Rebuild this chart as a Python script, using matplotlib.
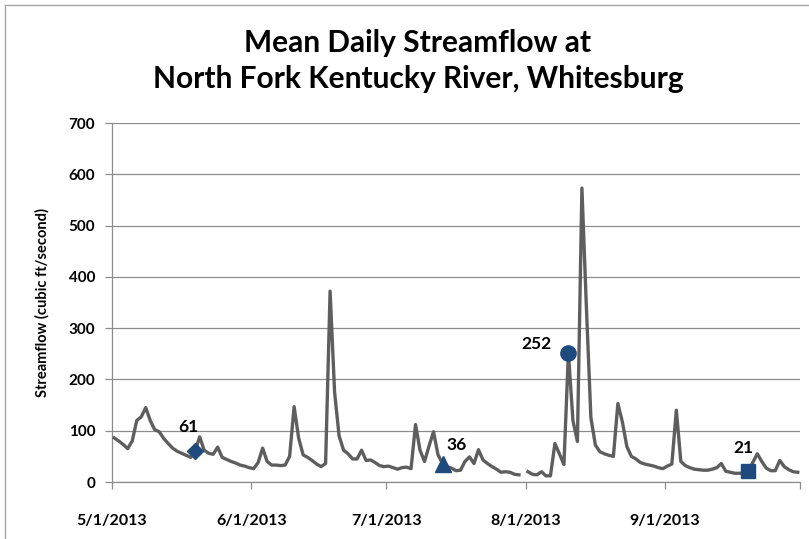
import numpy as np
import pandas as pd
import matplotlib
matplotlib.use("Agg")
import matplotlib.pyplot as plt
from matplotlib.lines import Line2D

# Mean daily streamflow (cubic ft/second), one list per month of 2013
may_flow = [86, 80, 73, 65, 80, 120, 127, 145, 120, 102,
            98, 85, 75, 66, 60, 56, 52, 48, 61, 88,
            62, 56, 54, 68, 48, 44, 40, 37, 33, 31,
            28]
jun_flow = [26, 38, 66, 40, 33, 33, 32, 33, 50, 147,
            86, 53, 48, 42, 35, 30, 36, 372, 175, 90,
            62, 55, 45, 45, 62, 42, 43, 38, 32, 30]
jul_flow = [31, 28, 25, 28, 29, 26, 112, 62, 40, 70,
            98, 53, 36, 30, 27, 22, 23, 40, 49, 36,
            63, 43, 36, 30, 25, 19, 20, 19, 15, 14,
            np.nan]
aug_flow = [20, 15, 14, 20, 12, 12, 75, 55, 34, 252,
            120, 79, 573, 340, 125, 72, 59, 55, 52, 50,
            153, 117, 69, 50, 45, 38, 35, 33, 31, 28,
            26]
sep_flow = [31, 35, 140, 40, 32, 28, 25, 24, 23, 23,
            25, 28, 36, 21, 19, 17, 17, 18, 21, 38,
            55, 40, 27, 22, 22, 42, 30, 24, 20, 19]

start_date = "2013-05-01"

# Highlighted sample days
sample_dates = ["2013-05-19", "2013-07-13", "2013-08-10", "2013-09-19"]
sample_values = [61, 36, 252, 21]
sample_markers = ["D", "^", "o", "s"]
sample_sizes = [8.5, 12, 11, 10.5]
label_offsets = [(-7, 24), (14, 19), (-32, 9), (-5, 23)]

tick_dates = ["2013-05-01", "2013-06-01", "2013-07-01", "2013-08-01",
              "2013-09-01", "2013-10-01"]
tick_labels = ["5/1/2013", "6/1/2013", "7/1/2013", "8/1/2013", "9/1/2013", ""]
y_ticks = [0, 100, 200, 300, 400, 500, 600, 700]

flow = may_flow + jun_flow + jul_flow + aug_flow + sep_flow
# each day's value sits in the middle of its day slot
dates = pd.date_range(start_date, periods=len(flow), freq="D") + pd.Timedelta(hours=12)
flow = np.array(flow, dtype=float)

W, H = 809, 539
fig = plt.figure(figsize=(W / 100, H / 100), dpi=100)
fig.patch.set_facecolor("white")

ax = fig.add_axes([112 / W, 1 - 482 / H, 688 / W, 359 / H])

grid_col = "#8c8c8c"
ax.plot(dates, flow, color="#5e5e5e", lw=2.4, zorder=3)

for d, v, m, s, off in zip(sample_dates, sample_values, sample_markers,
                           sample_sizes, label_offsets):
    x = pd.Timestamp(d) + pd.Timedelta(hours=12)
    ax.plot([x], [v], marker=m, ms=s, color="#1f4a7e", mec="#1f4a7e",
            zorder=4, linestyle="none")
    ax.annotate(str(v), xy=(x, v), xytext=off, textcoords="offset pixels",
                ha="center", va="center", fontsize=12.5, fontweight="bold",
                family="Lato", color="black", zorder=5)

ax.set_xlim(pd.Timestamp(tick_dates[0]), pd.Timestamp(tick_dates[-1]))
ax.set_ylim(0, 700)
ax.set_yticks(y_ticks)
ax.set_xticks([pd.Timestamp(t) for t in tick_dates])
ax.set_xticklabels(tick_labels)

ax.yaxis.grid(True, color=grid_col, lw=0.9)
ax.set_axisbelow(True)
for side in ("top", "right"):
    ax.spines[side].set_visible(False)
for side in ("left", "bottom"):
    ax.spines[side].set_color(grid_col)
    ax.spines[side].set_linewidth(0.9)

ax.tick_params(axis="y", length=5, width=0.9, color=grid_col, pad=7,
               labelsize=11, labelcolor="black")
ax.tick_params(axis="x", length=5, width=0.9, color=grid_col, pad=18,
               labelsize=11.5, labelcolor="black")
for lab in ax.get_xticklabels() + ax.get_yticklabels():
    lab.set_family("Lato")
    lab.set_fontweight("bold")

ax.set_ylabel("Streamflow (cubic ft/second)", family="Lato", fontweight="bold",
              fontsize=10.5, labelpad=14)

fig.text(418 / W, 1 - 43 / H, "Mean Daily Streamflow at", ha="center",
         va="center", family="Lato", fontweight="bold", fontsize=21.5)
fig.text(418 / W, 1 - 79 / H, "North Fork Kentucky River, Whitesburg",
         ha="center", va="center", family="Lato", fontweight="bold", fontsize=21.5)

# chart-area border along the top and left edges
fig.add_artist(Line2D([5 / W, 1.0], [1 - 5 / H, 1 - 5 / H], color="#a6a6a6",
                      lw=1.0, transform=fig.transFigure))
fig.add_artist(Line2D([5 / W, 5 / W], [0.0, 1 - 5 / H], color="#a6a6a6",
                      lw=1.0, transform=fig.transFigure))

fig.savefig("out.png", dpi=100)
